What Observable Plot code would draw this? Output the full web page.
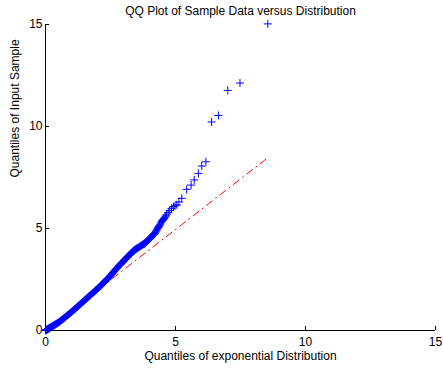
<!DOCTYPE html>
<html><head><meta charset="utf-8">
<script src="https://cdn.jsdelivr.net/npm/d3@7"></script>
<script src="https://cdn.jsdelivr.net/npm/@observablehq/plot@0.6"></script>
<style>body{margin:0;background:#fff}</style>
</head><body><div id="chart"></div>
<script>
const title = "QQ Plot of Sample Data versus Distribution";
const xLabel = "Quantiles of exponential Distribution";
const yLabel = "Quantiles of Input Sample";
const xTicks = [0, 5, 10, 15];
const yTicks = [0, 5, 10, 15];

// theoretical (exponential) quantiles
const sampleX = [
  0.00, 0.015, 0.03, 0.045, 0.06, 0.08, 0.10, 0.12, 0.14, 0.16, 0.18, 0.20,
  0.22, 0.245, 0.27, 0.295, 0.32, 0.345, 0.37, 0.395, 0.42, 0.45, 0.48, 0.51,
  0.54, 0.57, 0.60, 0.63, 0.66, 0.69, 0.72, 0.75, 0.78, 0.815, 0.85, 0.885,
  0.92, 0.955, 0.99, 1.025, 1.06, 1.095, 1.13, 1.16, 1.19, 1.22, 1.25, 1.285,
  1.32, 1.355, 1.39, 1.425, 1.46, 1.495, 1.53, 1.565, 1.60, 1.635, 1.67, 1.705,
  1.74, 1.775, 1.81, 1.85, 1.89, 1.925, 1.96, 1.995, 2.03, 2.065, 2.10, 2.135,
  2.17, 2.205, 2.24, 2.275, 2.31, 2.34, 2.37, 2.395, 2.42, 2.45, 2.48, 2.51,
  2.54, 2.57, 2.60, 2.63, 2.66, 2.69, 2.72, 2.75, 2.78, 2.81, 2.84, 2.865,
  2.89, 2.91, 2.93, 2.96, 2.99, 3.02, 3.05, 3.08, 3.11, 3.14, 3.17, 3.20,
  3.23, 3.26, 3.29, 3.32, 3.35, 3.375, 3.40, 3.42, 3.44, 3.47, 3.50, 3.53,
  3.56, 3.59, 3.62, 3.65, 3.68, 3.71, 3.74, 3.765, 3.79, 3.81, 3.83, 3.855,
  3.88, 3.91, 3.94, 3.97, 4.00, 4.03, 4.06, 4.09, 4.12, 4.145, 4.17, 4.19,
  4.21, 4.235, 4.26, 4.285, 4.31, 4.335, 4.36, 4.385, 4.41, 4.44, 4.47, 4.50,
  4.53, 4.56, 4.59, 4.625, 4.66, 4.72, 4.78, 4.85, 4.92, 4.98, 5.05, 5.13,
  5.24, 5.43, 5.60, 5.72, 5.88, 6.01, 6.17, 6.39, 6.65, 7.01, 7.48, 8.55
];
// sample quantiles
const sampleY = [
  0.01, 0.02, 0.03, 0.04, 0.05, 0.065, 0.08, 0.095, 0.11, 0.125, 0.14, 0.155,
  0.17, 0.19, 0.21, 0.23, 0.25, 0.27, 0.29, 0.31, 0.33, 0.35, 0.37, 0.40,
  0.43, 0.46, 0.49, 0.52, 0.55, 0.58, 0.61, 0.645, 0.68, 0.715, 0.75, 0.785,
  0.82, 0.86, 0.90, 0.94, 0.98, 1.015, 1.05, 1.085, 1.12, 1.155, 1.19, 1.23,
  1.27, 1.31, 1.35, 1.39, 1.43, 1.47, 1.51, 1.55, 1.59, 1.63, 1.67, 1.71,
  1.75, 1.79, 1.83, 1.875, 1.92, 1.96, 2.00, 2.045, 2.09, 2.13, 2.17, 2.215,
  2.26, 2.305, 2.35, 2.39, 2.43, 2.47, 2.51, 2.54, 2.57, 2.615, 2.66, 2.705,
  2.75, 2.795, 2.84, 2.885, 2.93, 2.975, 3.02, 3.06, 3.10, 3.145, 3.19, 3.225,
  3.26, 3.285, 3.31, 3.35, 3.39, 3.43, 3.47, 3.51, 3.55, 3.59, 3.63, 3.665,
  3.70, 3.74, 3.78, 3.82, 3.86, 3.89, 3.92, 3.94, 3.96, 3.985, 4.01, 4.035,
  4.06, 4.085, 4.11, 4.135, 4.16, 4.185, 4.21, 4.23, 4.25, 4.265, 4.28, 4.315,
  4.35, 4.385, 4.42, 4.46, 4.50, 4.54, 4.58, 4.62, 4.66, 4.69, 4.72, 4.745,
  4.77, 4.825, 4.88, 4.935, 4.99, 5.045, 5.10, 5.155, 5.21, 5.275, 5.34, 5.39,
  5.44, 5.495, 5.55, 5.61, 5.67, 5.78, 5.88, 5.99, 6.07, 6.11, 6.16, 6.30,
  6.48, 6.92, 7.13, 7.38, 7.70, 8.06, 8.27, 10.22, 10.54, 11.77, 12.13, 15.03
];
// reference line (dash-dot)
const refX = [0.00, 8.55];
const refY = [0.00, 8.47];

const W = 443, H = 368;
const mL = 45, mR = 8, mT = 24, mB = 38;
const plotW = W - mL - mR, plotH = H - mT - mB;
const tickLen = 4;
const font = "'Liberation Sans', Arial, Helvetica, sans-serif";

const points = sampleX.map((x, i) => ({x, y: sampleY[i]}));
const ref = refX.map((x, i) => ({x, y: refY[i]}));

const chart = Plot.plot({
  width: W, height: H,
  marginLeft: mL, marginRight: mR, marginTop: mT, marginBottom: mB,
  style: {fontFamily: font, fontSize: "12px", background: "white", color: "black", overflow: "visible"},
  x: {domain: [0, 15], axis: null, inset: 0},
  y: {domain: [0, 15], axis: null, inset: 0},
  marks: [
    Plot.line(ref, {x: "x", y: "y", stroke: "#ff0000", strokeWidth: 1, strokeDasharray: "7,4.5,1,4.5"}),
    Plot.ruleX([0], {stroke: "black", strokeWidth: 1}),
    Plot.ruleY([0], {stroke: "black", strokeWidth: 1}),
    Plot.tickX(xTicks, {x: d => d, insetTop: plotH - tickLen, stroke: "black"}),
    Plot.tickY(yTicks, {y: d => d, insetRight: plotW - tickLen, stroke: "black"}),
    Plot.text(xTicks, {x: d => d, frameAnchor: "bottom", dy: 12, lineAnchor: "middle", text: d => String(d), fontSize: 12, fill: "black"}),
    Plot.text(yTicks, {y: d => d, frameAnchor: "left", dx: -3, textAnchor: "end", lineAnchor: "middle", text: d => String(d), fontSize: 12, fill: "black"}),
    Plot.dot(points, {x: "x", y: "y", symbol: "plus", r: 2.7, stroke: "#0000ff", strokeWidth: 1, fill: "none"}),
    Plot.text([title], {frameAnchor: "top", dy: -13.5, lineAnchor: "middle", text: d => d, fontSize: 12, fill: "black"}),
    Plot.text([xLabel], {frameAnchor: "bottom", dy: 26, lineAnchor: "middle", text: d => d, fontSize: 12, fill: "black"}),
    Plot.text([yLabel], {frameAnchor: "left", dx: -30, rotate: -90, lineAnchor: "middle", text: d => d, fontSize: 12, fill: "black"})
  ]
});
document.getElementById("chart").appendChild(chart);
</script>
</body></html>
